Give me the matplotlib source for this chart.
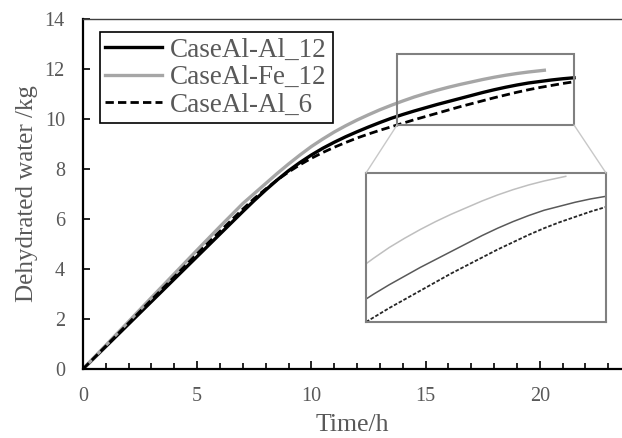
import numpy as np
import matplotlib
matplotlib.use("Agg")
from matplotlib import pyplot as plt
from matplotlib.patches import Rectangle, ConnectionPatch

plt.rcParams['font.family'] = ['Liberation Serif', 'DejaVu Serif']

# data (time in h, dehydrated water in kg)
t_al12 = [0, 1, 2, 3, 4, 5, 6, 7, 7.5, 8, 8.5, 9, 9.5, 10, 10.5, 11, 11.5, 12, 12.5, 13, 13.5,
          14, 14.5, 15, 15.5, 16, 16.5, 17, 17.5, 18, 18.5, 19, 19.5, 20, 20.5, 21, 21.5]
w_al12 = [0, 0.9, 1.8, 2.7, 3.6, 4.5, 5.4, 6.3, 6.74, 7.16, 7.56, 7.93, 8.26, 8.56, 8.83, 9.07,
          9.29, 9.49, 9.68, 9.86, 10.03, 10.18, 10.32, 10.45, 10.58, 10.7, 10.82, 10.94, 11.06,
          11.17, 11.27, 11.36, 11.44, 11.5, 11.56, 11.61, 11.65]

t_fe12 = [0, 1, 2, 3, 4, 5, 6, 7, 7.5, 8, 8.5, 9, 9.5, 10, 10.5, 11, 11.5, 12, 12.5, 13, 13.5,
          14, 14.5, 15, 15.5, 16, 16.5, 17, 17.5, 18, 18.5, 19, 19.5, 20, 20.2]
w_fe12 = [0, 0.95, 1.9, 2.86, 3.81, 4.76, 5.7, 6.62, 7.02, 7.42, 7.82, 8.2, 8.56, 8.9, 9.2,
          9.48, 9.73, 9.96, 10.17, 10.37, 10.55, 10.72, 10.88, 11.02, 11.15, 11.27, 11.38,
          11.48, 11.58, 11.67, 11.75, 11.82, 11.88, 11.93, 11.95]

t_al6 = [0, 1, 2, 3, 4, 5, 6, 7, 7.5, 8, 8.5, 9, 9.5, 10, 10.5, 11, 11.5, 12, 12.5, 13, 13.5,
         14, 14.5, 15, 15.5, 16, 16.5, 17, 17.5, 18, 18.5, 19, 19.5, 20, 20.5, 21, 21.5]
w_al6 = [0, 0.92, 1.84, 2.77, 3.69, 4.61, 5.51, 6.4, 6.82, 7.2, 7.56, 7.88, 8.17, 8.43, 8.66,
         8.87, 9.06, 9.24, 9.4, 9.55, 9.69, 9.83, 9.97, 10.1, 10.23, 10.36, 10.49, 10.61,
         10.73, 10.85, 10.96, 11.07, 11.17, 11.26, 11.34, 11.42, 11.49]

labels = ["CaseAl-Al_12", "CaseAl-Fe_12", "CaseAl-Al_6"]

zoom_x = (13.75, 21.5)
zoom_y = (9.76, 12.6)
inset_y = (9.76, 12.0)

grey_txt = "#595959"

fig = plt.figure(figsize=(6.22, 4.38), dpi=100)
ax = fig.add_axes([0.1334, 0.1575, 0.8666, 0.7991])

ax.plot(t_al12, w_al12, color="black", lw=2.4, label=labels[0])
ax.plot(t_fe12, w_fe12, color="#a6a6a6", lw=2.4, label=labels[1])
ax.plot(t_al6, w_al6, color="black", lw=2.0, ls=(0, (3, 1.5)), label=labels[2])

ax.set_xlim(0, 23.6)
ax.set_ylim(0, 14)
ax.set_xticks([0, 5, 10, 15, 20])
ax.set_xticks(np.arange(0, 24, 1), minor=True)
ax.set_yticks(np.arange(0, 15, 2))
ax.tick_params(axis="both", which="both", direction="in", colors="black",
               labelcolor=grey_txt, labelsize=14.5, width=1.2)
ax.tick_params(axis="x", which="major", length=5.5, pad=13)
ax.tick_params(axis="x", which="minor", length=4)
ax.tick_params(axis="y", which="major", length=5, pad=13)
ax.spines["right"].set_visible(False)
ax.spines["left"].set_linewidth(1.6)
ax.spines["bottom"].set_linewidth(1.6)
ax.spines["top"].set_linewidth(1.0)
ax.spines["top"].set_color("#404040")

ax.set_xlabel("Time/h", fontsize=18.5, color=grey_txt, labelpad=6)
ax.set_ylabel("Dehydrated water /kg", fontsize=18, color=grey_txt, labelpad=5)

leg = ax.legend(loc="upper left", bbox_to_anchor=(0.0315, 0.963), fontsize=19.5,
                frameon=True, fancybox=False, framealpha=1, edgecolor="black",
                handlelength=2.1, handletextpad=0.3, labelspacing=0.1,
                borderpad=0.2, borderaxespad=0)
leg.get_frame().set_linewidth(1.2)
for txt in leg.get_texts():
    txt.set_color(grey_txt)

# zoom rectangle
rect = Rectangle((zoom_x[0], zoom_y[0]), zoom_x[1] - zoom_x[0], zoom_y[1] - zoom_y[0],
                 fill=False, edgecolor="#808080", lw=1.5, zorder=5)
ax.add_patch(rect)

# inset
axin = fig.add_axes([0.5884, 0.2648, 0.3859, 0.3402])
axin.plot(t_al12, w_al12, color="#595959", lw=1.1)
axin.plot(t_fe12, w_fe12, color="#bfbfbf", lw=1.1)
axin.plot(t_al6, w_al6, color="#262626", lw=1.3, ls=(0, (2, 1)))
axin.set_xlim(*zoom_x)
axin.set_ylim(*inset_y)
axin.set_xticks([])
axin.set_yticks([])
for s in axin.spines.values():
    s.set_color("#808080")
    s.set_linewidth(1.5)

for xa, xb in [(zoom_x[0], 0), (zoom_x[1], 1)]:
    con = ConnectionPatch(xyA=(xa, zoom_y[0]), coordsA=ax.transData,
                          xyB=(xb, 1), coordsB=axin.transAxes,
                          color="#c8c8c8", lw=1.0)
    fig.add_artist(con)

fig.savefig("out.png", dpi=100)
